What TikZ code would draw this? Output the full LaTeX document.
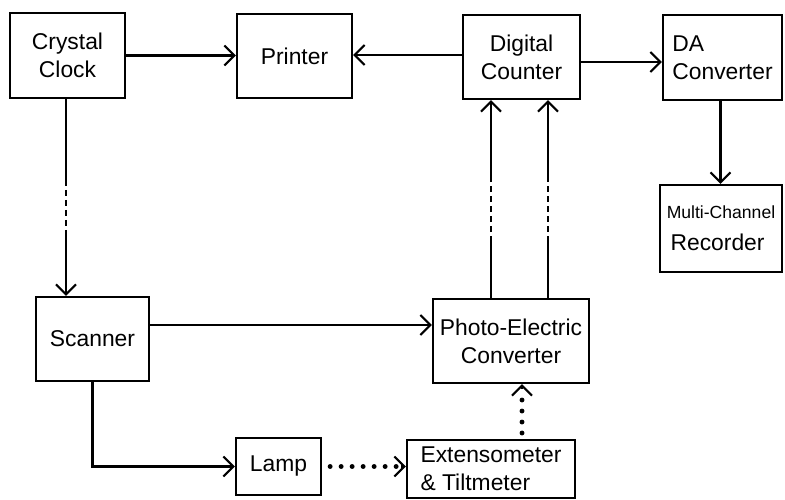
\documentclass[tikz,border=0pt]{standalone}
\usepackage{fontspec}
\setmainfont{Liberation Sans}
\usetikzlibrary{arrows.meta, positioning, calc}

\tikzset{
  blk/.style={draw, rectangle, line width=1.3pt, inner sep=2pt, align=center},
  flow/.style={line width=1.2pt, -{Straight Barb[length=2mm, width=4mm, line width=1.2pt]}},
  wire/.style={line width=1.2pt},
  gapline/.style={line width=1.7pt, dash pattern=on 0.12cm off 0.08cm},
  dotline/.style={line width=2.8pt, line cap=round, dash pattern=on 0pt off 0.22cm}
}

\begin{document}
\begin{tikzpicture}[x=0.02cm, y=-0.02cm, font=\fontsize{13}{16}\selectfont]
        \useasboundingbox (0,0) rectangle (785,500);

        \node (clock) at (67.5,55.5) [blk, minimum width=2.3cm, minimum height=1.7cm] {Crystal\\Clock};
        \node (printer) at (294.5,56) [blk, minimum width=2.3cm, minimum height=1.68cm] {Printer};
        \node (counter) at (521.5,57) [blk, minimum width=2.34cm, minimum height=1.68cm] {Digital\\Counter};
        \node (da) at (722.5,57.5) [blk, minimum width=2.38cm, minimum height=1.7cm, align=left] {DA\\Converter};
        \node (rec) at (721,228.5) [blk, minimum width=2.44cm, minimum height=1.74cm, align=left] {{\fontsize{10}{12}\selectfont Multi-Channel}\\[2pt]\,Recorder};
        \node (scanner) at (92.5,339) [blk, minimum width=2.26cm, minimum height=1.68cm] {Scanner};
        \node (photo) at (511,341) [blk, minimum width=3.12cm, minimum height=1.68cm, inner sep=1pt] {Photo-Electric\\Converter};
        \node (lamp) at (278.5,466.5) [blk, minimum width=1.7cm, minimum height=1.14cm] {Lamp};
        \node (ext) at (491,469) [blk, minimum width=3.36cm, minimum height=1.16cm, align=left] {Extensometer\\\& Tiltmeter};

        % top row
        \draw[flow] (clock.east) -- (clock.east -| printer.west);
        \draw[flow] ([yshift=0.04cm]counter.west) -- ([yshift=0.04cm]counter.west -| printer.east);
        \draw[flow] ([yshift=-0.1cm]counter.east) -- ([yshift=-0.1cm]counter.east -| da.west);
        \draw[flow] ([xshift=-0.04cm]da.south) -- ([xshift=-0.04cm]da.south |- rec.north);

        % clock down to scanner
        \coordinate (c1) at ([xshift=-0.03cm]clock.south |- 0,180);
        \coordinate (c2) at ([xshift=-0.03cm]clock.south |- 0,235);
        \draw[wire] ([xshift=-0.03cm]clock.south) -- (c1);
        \draw[gapline] (c1) -- (c2);
        \draw[flow] (c2) -- (c2 |- scanner.north);

        % photo-electric up to counter
        \coordinate (p1) at (491,299);
        \coordinate (p2) at (548,299);
        \foreach \p in {p1,p2} {
          \draw[wire] (\p) -- ($(\p |- 0,242)$);
          \draw[gapline] ($(\p |- 0,242)$) -- ($(\p |- 0,180)$);
          \draw[flow] ($(\p |- 0,180)$) -- (\p |- counter.south);
        }

        % scanner outputs
        \coordinate (s1) at ([yshift=0.28cm]scanner.east);
        \draw[flow] (s1) -- (s1 -| photo.west);
        \draw[flow] (scanner.south) |- (lamp.west);

        % dotted links
        \draw[dotline] ([xshift=0.16cm]lamp.east) -- ([xshift=-0.14cm]lamp.east -| ext.west);
        \draw[flow] ([xshift=-0.1cm]lamp.east -| ext.west) -- (lamp.east -| ext.west);
        \coordinate (e1) at (522,440);
        \draw[dotline] ([yshift=0.14cm]e1) -- ([yshift=-0.16cm]e1 |- photo.south);
        \draw[flow] ([yshift=-0.1cm]e1 |- photo.south) -- (e1 |- photo.south);
    \end{tikzpicture}
\end{document}
